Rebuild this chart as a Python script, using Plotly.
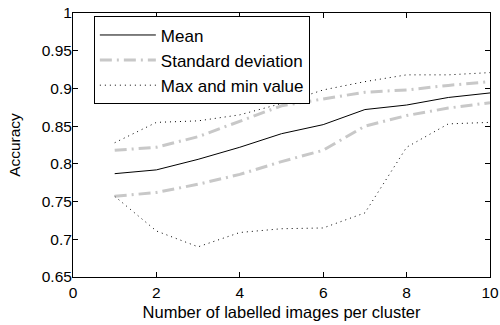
import plotly.graph_objects as go

x_vals = [1, 2, 3, 4, 5, 6, 7, 8, 9, 10]
mean_vals = [0.787, 0.792, 0.806, 0.822, 0.840, 0.852, 0.872, 0.878, 0.888, 0.894]
std_upper = [0.818, 0.822, 0.836, 0.856, 0.877, 0.886, 0.895, 0.898, 0.904, 0.909]
std_lower = [0.757, 0.762, 0.773, 0.786, 0.803, 0.818, 0.850, 0.864, 0.874, 0.881]
max_vals = [0.828, 0.855, 0.857, 0.865, 0.880, 0.898, 0.909, 0.918, 0.918, 0.921]
min_vals = [0.757, 0.711, 0.690, 0.709, 0.714, 0.715, 0.735, 0.822, 0.853, 0.855]

x_ticks = [0, 2, 4, 6, 8, 10]
y_ticks = [0.65, 0.7, 0.75, 0.8, 0.85, 0.9, 0.95, 1.0]
y_tick_text = ["0.65", "0.7", "0.75", "0.8", "0.85", "0.9", "0.95", "1"]

FONT = "Liberation Sans, Arial, sans-serif"
GRAY = "#c8c8c8"

fig = go.Figure()
fig.add_trace(go.Scatter(x=x_vals, y=mean_vals, mode="lines", name="Mean",
                         line=dict(color="black", width=1)))
fig.add_trace(go.Scatter(x=x_vals, y=std_upper, mode="lines", name="Standard deviation",
                         legendgroup="std",
                         line=dict(color=GRAY, width=3, dash="12px,5px,2px,5px")))
fig.add_trace(go.Scatter(x=x_vals, y=std_lower, mode="lines", name="Standard deviation",
                         legendgroup="std", showlegend=False,
                         line=dict(color=GRAY, width=3, dash="12px,5px,2px,5px")))
fig.add_trace(go.Scatter(x=x_vals, y=max_vals, mode="lines", name="Max and min value",
                         legendgroup="mm",
                         line=dict(color="black", width=1, dash="1px,4px")))
fig.add_trace(go.Scatter(x=x_vals, y=min_vals, mode="lines", name="Max and min value",
                         legendgroup="mm", showlegend=False,
                         line=dict(color="black", width=1, dash="1px,4px")))

axis_common = dict(showline=True, linecolor="black", linewidth=1, mirror="ticks",
                   ticks="inside", ticklen=5, tickcolor="black", showgrid=False,
                   zeroline=False, automargin=False, ticklabeloverflow="allow",
                   tickfont=dict(family=FONT, size=15.5, color="black"))

fig.update_xaxes(range=[0, 10], tickvals=x_ticks, ticklabelstandoff=1,
                 title=dict(text="Number of labelled images per cluster",
                            font=dict(family=FONT, size=16.5, color="black"), standoff=6),
                 **axis_common)
fig.update_yaxes(range=[0.65, 1.0], tickvals=y_ticks, ticktext=y_tick_text,
                 ticklabelstandoff=-3,
                 title=dict(text="Accuracy", font=dict(family=FONT, size=15.5, color="black"),
                            standoff=17),
                 **axis_common)

fig.update_layout(
    width=500, height=325,
    margin=dict(l=73, r=10, t=13, b=48),
    paper_bgcolor="white", plot_bgcolor="white",
    font=dict(family=FONT, size=17, color="black"),
    showlegend=True,
    legend=dict(x=0.05, y=0.987, xanchor="left", yanchor="top",
                bordercolor="black", borderwidth=1, bgcolor="white",
                font=dict(family=FONT, size=17, color="black"),
                tracegroupgap=0, itemwidth=56),
)

# remove the page's default body margin so the figure sits at the window's corner
fig.write_html("out.html", config={"displayModeBar": False},
               post_script="document.body.style.margin='0';document.body.style.overflow='hidden';")
